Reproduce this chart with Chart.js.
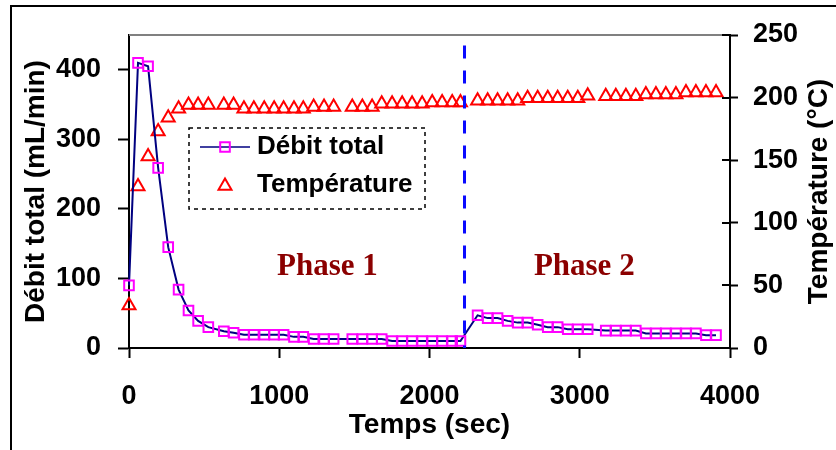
<!DOCTYPE html>
<html>
<head>
<meta charset="utf-8">
<script src="https://cdn.jsdelivr.net/npm/chart.js@4.4.1/dist/chart.umd.min.js"></script>
<style>
html,body{margin:0;padding:0;background:#fff;}
#wrap{width:836px;height:450px;position:relative;}
</style>
</head>
<body>
<div id="wrap"><canvas id="c" width="836" height="450"></canvas></div>
<script>
// ---- data ----
const timeSec = [
  0, 60, 127, 194, 261, 330, 396, 460, 528, 631, 696, 765, 831, 900, 966, 1029, 1098, 1160,
  1229, 1298, 1362, 1486, 1553, 1618, 1682, 1751, 1818, 1884, 1951, 2018, 2084, 2151, 2206,
  2320, 2387, 2453, 2520, 2587, 2653, 2720, 2787, 2853, 2920, 2987, 3053,
  3173, 3240, 3307, 3373, 3440, 3507, 3573, 3640, 3707, 3773, 3840, 3907
];
const debitTotal = [
  90, 410, 405, 259, 145, 84, 54, 39, 30, 24, 22, 19, 19, 19, 19, 19, 16, 16,
  13, 13, 13, 13, 13, 13, 13, 10, 10, 10, 10, 10, 10, 10, 10,
  47, 43, 43, 39, 36.5, 36.5, 33.5, 30, 30, 27, 27, 27,
  25, 25, 25, 25, 21, 21, 21, 21, 21, 21, 18.5, 18.5
];
const temperature = [
  34, 129, 153, 173, 184, 191, 194, 194, 194, 194, 194, 191, 191, 191, 191, 191, 191, 191,
  192.5, 192.5, 192.5, 192.5, 192.5, 192.5, 195, 195, 195, 195, 195, 196, 196, 196, 196,
  197.5, 197.5, 197.5, 197.5, 197.5, 199.5, 199.5, 199.5, 199.5, 199.5, 199.5, 201.5,
  201, 201, 201, 201, 202.5, 202.5, 202.5, 202.5, 204, 204, 204, 204
];
const xTickValues = [0, 1000, 2000, 3000, 4000];
const yTickValues = [0, 100, 200, 300, 400];
const y2TickValues = [0, 50, 100, 150, 200, 250];
const seriesLabels = ['Débit total', 'Température'];
const xTitle = 'Temps (sec)';
const yTitle = 'Débit total (mL/min)';
const y2Title = 'Température (°C)';
const phaseLabels = ['Phase 1', 'Phase 2'];
const phaseLabelTime = [1320, 3030];
const phaseLabelLevel = 117;
const phaseSplitTime = 2233;
const phaseSplitTop = 435;

// ---- chart ----
const SANS = "'Liberation Sans', Arial, sans-serif";
const SERIF = "'Liberation Serif', 'Times New Roman', serif";
Chart.defaults.font.family = SANS;
Chart.defaults.color = '#000';

function markRect(ctx, x, y, r) {
  const s = Math.SQRT1_2 * r;
  ctx.beginPath(); ctx.rect(x - s, y - s, 2 * s, 2 * s); ctx.stroke();
}
function markTri(ctx, x, y, r) {
  ctx.beginPath();
  ctx.moveTo(x, y - r);
  ctx.lineTo(x + r * Math.sin(2 * Math.PI / 3), y - r * Math.cos(2 * Math.PI / 3));
  ctx.lineTo(x + r * Math.sin(4 * Math.PI / 3), y - r * Math.cos(4 * Math.PI / 3));
  ctx.closePath(); ctx.stroke();
}

const decor = {
  id: 'decor',
  beforeDraw(chart) {
    const ctx = chart.ctx;
    ctx.save();
    ctx.fillStyle = '#fff';
    ctx.fillRect(0, 0, chart.width, chart.height);
    ctx.fillStyle = '#000';
    ctx.fillRect(10, 5, chart.width - 10, 2);
    ctx.fillRect(10, 5, 2, chart.height - 5);
    ctx.restore();
  },
  afterDatasetsDraw(chart) {
    const ctx = chart.ctx;
    const a = chart.chartArea;
    const xs = chart.scales.x, ys = chart.scales.y, y2 = chart.scales.y2;
    ctx.save();
    // top plot border (grey)
    ctx.strokeStyle = '#808080'; ctx.lineWidth = 2;
    ctx.beginPath(); ctx.moveTo(a.left, a.top); ctx.lineTo(a.right - 8, a.top); ctx.stroke();
    // inner ticks on right axis
    ctx.strokeStyle = '#000'; ctx.lineWidth = 2;
    y2.ticks.forEach(t => {
      const py = Math.round(y2.getPixelForValue(t.value));
      ctx.beginPath(); ctx.moveTo(a.right - 8, py); ctx.lineTo(a.right, py); ctx.stroke();
    });
    // dashed phase split line
    const px = xs.getPixelForValue(phaseSplitTime);
    ctx.strokeStyle = '#0a0aff'; ctx.lineWidth = 3; ctx.setLineDash([13, 12]);
    ctx.beginPath(); ctx.moveTo(px, ys.getPixelForValue(phaseSplitTop)); ctx.lineTo(px, ys.getPixelForValue(0)); ctx.stroke();
    ctx.setLineDash([]);
    // phase labels
    ctx.fillStyle = '#8b0000';
    ctx.font = 'bold 31px ' + SERIF;
    ctx.textAlign = 'center'; ctx.textBaseline = 'middle';
    phaseLabels.forEach((lab, i) => {
      ctx.fillText(lab, xs.getPixelForValue(phaseLabelTime[i]), ys.getPixelForValue(phaseLabelLevel));
    });
    // right axis title (reads bottom to top)
    ctx.fillStyle = '#000';
    ctx.font = 'bold 28px ' + SANS;
    ctx.translate(819, (a.top + a.bottom) / 2);
    ctx.rotate(-Math.PI / 2);
    ctx.fillText(y2Title, 0, 0);
    ctx.restore();

    // legend
    const ds = chart.data.datasets;
    const bx = a.left + 60, by = a.top + 93, bw = 236, bh = 81;
    ctx.save();
    ctx.strokeStyle = '#000'; ctx.lineWidth = 1.5; ctx.setLineDash([4, 4]);
    ctx.strokeRect(bx, by, bw, bh);
    ctx.setLineDash([]);
    const r1 = by + 19, r2 = by + 57, mx = bx + 36;
    ctx.strokeStyle = ds[0].borderColor; ctx.lineWidth = 1.5;
    ctx.beginPath(); ctx.moveTo(bx + 11, r1); ctx.lineTo(bx + 61, r1); ctx.stroke();
    ctx.strokeStyle = ds[0].pointBorderColor; ctx.lineWidth = ds[0].pointBorderWidth;
    markRect(ctx, mx, r1, ds[0].pointRadius);
    ctx.strokeStyle = ds[1].pointBorderColor; ctx.lineWidth = ds[1].pointBorderWidth;
    markTri(ctx, mx, r2 + 1, ds[1].pointRadius);
    ctx.fillStyle = '#000'; ctx.font = 'bold 26px ' + SANS;
    ctx.textAlign = 'left'; ctx.textBaseline = 'middle';
    ctx.fillText(ds[0].label, bx + 68, r1);
    ctx.fillText(ds[1].label, bx + 68, r2);
    ctx.restore();
  }
};

const tickFont = { size: 27, weight: 'bold' };
const titleFont = { size: 28, weight: 'bold' };
const plain = v => String(v);

new Chart(document.getElementById('c'), {
  type: 'scatter',
  data: {
    datasets: [
      {
        label: seriesLabels[0],
        data: timeSec.map((t, i) => ({ x: t, y: debitTotal[i] })),
        showLine: true,
        clip: false,
        borderColor: '#000080',
        borderWidth: 2,
        pointStyle: 'rect',
        pointRadius: 6.8,
        pointBorderColor: '#ff00ff',
        pointBackgroundColor: 'rgba(0,0,0,0)',
        pointBorderWidth: 2,
        yAxisID: 'y'
      },
      {
        label: seriesLabels[1],
        data: timeSec.map((t, i) => ({ x: t, y: temperature[i] })),
        showLine: false,
        clip: false,
        borderColor: '#ff0000',
        pointStyle: 'triangle',
        pointRadius: 7.5,
        pointBorderColor: '#ff0000',
        pointBackgroundColor: 'rgba(0,0,0,0)',
        pointBorderWidth: 2,
        yAxisID: 'y2'
      }
    ]
  },
  options: {
    responsive: false,
    animation: false,
    devicePixelRatio: 1,
    layout: { padding: { top: 35, left: 0, right: 0, bottom: 0 } },
    plugins: { legend: { display: false }, tooltip: { enabled: false } },
    scales: {
      x: {
        type: 'linear', min: 0, max: 4000,
        afterBuildTicks: s => { s.ticks = xTickValues.map(v => ({ value: v })); },
        ticks: { font: tickFont, color: '#000', padding: 22, maxRotation: 0, autoSkip: false, callback: plain },
        grid: { drawOnChartArea: false, tickLength: 10, tickColor: '#000', tickWidth: 2 },
        border: { color: '#000', width: 2 },
        title: { display: true, text: xTitle, font: titleFont, color: '#000', padding: { top: 0, bottom: 8 } },
        afterFit: s => { s.height = 102; }
      },
      y: {
        position: 'left', min: 0, max: 450,
        afterBuildTicks: s => { s.ticks = yTickValues.map(v => ({ value: v })); },
        ticks: { font: tickFont, color: '#000', padding: 17, callback: plain },
        grid: { drawOnChartArea: false, tickLength: 11, tickColor: '#000', tickWidth: 2 },
        border: { color: '#000', width: 2 },
        title: { display: true, text: yTitle, font: titleFont, color: '#000', padding: { top: 19, bottom: 0 } },
        afterFit: s => { s.width = 129; }
      },
      y2: {
        position: 'right', min: 0, max: 250,
        afterBuildTicks: s => { s.ticks = y2TickValues.map(v => ({ value: v })); },
        ticks: { font: tickFont, color: '#000', padding: 15, callback: plain },
        grid: { drawOnChartArea: false, tickLength: 8, tickColor: '#000', tickWidth: 2 },
        border: { color: '#000', width: 2 },
        afterFit: s => { s.width = 106; }
      }
    }
  },
  plugins: [decor]
});
</script>
</body>
</html>
